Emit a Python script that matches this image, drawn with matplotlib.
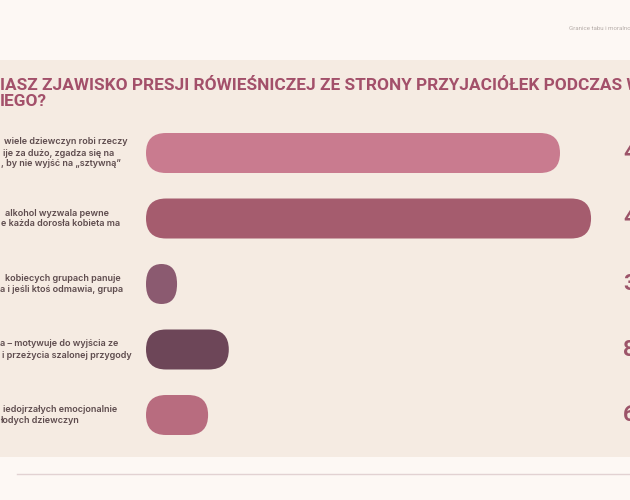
import matplotlib.pyplot as plt
from matplotlib.patches import FancyBboxPatch, Rectangle
from matplotlib import transforms

plt.rcParams['font.family'] = ['Roboto', 'DejaVu Sans']

# data (only the visible part of the slide)
values = [40, 43, 3, 8, 6]
value_labels = ['40%', '43%', '3%', '8%', '6%']
labels = [
    ['wiele dziewczyn robi rzeczy', 'ije za dużo, zgadza się na', ', by nie wyjść na „sztywną”'],
    ['alkohol wyzwala pewne', 'e każda dorosła kobieta ma'],
    ['kobiecych grupach panuje', 'a i jeśli ktoś odmawia, grupa'],
    ['a – motywuje do wyjścia ze', 'i przeżycia szalonej przygody'],
    ['iedojrzałych emocjonalnie', 'łodych dziewczyn'],
]
label_x = [[4, 3, 1], [5, 1], [5, 0], [0, 2], [3, 0]]
colors = ['#c97b8f', '#a55c6e', '#8b5a70', '#6d4658', '#b86c7f']
title_lines = ['IASZ ZJAWISKO PRESJI RÓWIEŚNICZEJ ZE STRONY PRZYJACIÓŁEK PODCZAS W', 'IEGO?']

W, H = 630, 500
fig = plt.figure(figsize=(6.3, 5), dpi=100)
fig.patch.set_facecolor('#fdf8f4')

# slide panel
fig.patches.append(Rectangle((0, 1 - 457 / H), 1, (457 - 60) / H, transform=fig.transFigure,
                             facecolor='#f5ebe2', edgecolor='none', zorder=-5))
fig.add_artist(plt.Line2D([17 / W, 1], [1 - 474 / H, 1 - 474 / H], color='#e2d2d2', lw=1))
fig.text(569 / W, 1 - 29 / H, 'Granice tabu i moralności', fontsize=4.4, color='#b5aca8',
         va='center', ha='left')

# title
for i, line in enumerate(title_lines):
    fig.text(0, 1 - (86 + 16 * i) / H, line, fontsize=12.4, fontweight='bold',
             color='#a3506a', va='center', ha='left')

# bars: one value unit = S pixels in both directions
S = 10.35
ax_top, ax_bot = 120, 450
ax = fig.add_axes([146 / W, 1 - ax_bot / H, (W - 146) / W, (ax_bot - ax_top) / H])
ax.set_xlim(0, (W - 146) / S)
ax.set_ylim((ax_bot - ax_top) / S, 0)
ax.axis('off')
ax.set_zorder(2)

row_gap = 65.5 / S
first = 33 / S
bar_h = 40 / S
ys = [first + i * row_gap for i in range(len(values))]

tr = transforms.blended_transform_factory(fig.transFigure, ax.transData)

for i, (v, y) in enumerate(zip(values, ys)):
    rx = min(v, bar_h) / 2
    ry = bar_h / 2
    box = FancyBboxPatch((0, y - bar_h / 2), v, bar_h,
                         boxstyle=f'round,pad=0,rounding_size={rx}',
                         mutation_aspect=ry / rx, facecolor=colors[i], edgecolor='none')
    ax.add_patch(box)
    ax.text(623 / W, y, value_labels[i], transform=tr, fontsize=16, fontweight='bold',
            color='#9c5469', va='center', ha='left', clip_on=False)
    n = len(labels[i])
    for j, line in enumerate(labels[i]):
        dy = (j - (n - 1) / 2) * 11 / S
        ax.text(label_x[i][j] / W, y + dy, line, transform=tr, fontsize=6.5, fontweight='semibold',
                family=['Inter', 'DejaVu Sans'], color='#5e4c4e', va='center', ha='left',
                clip_on=False)

fig.savefig('out.png', dpi=100, facecolor=fig.get_facecolor())
